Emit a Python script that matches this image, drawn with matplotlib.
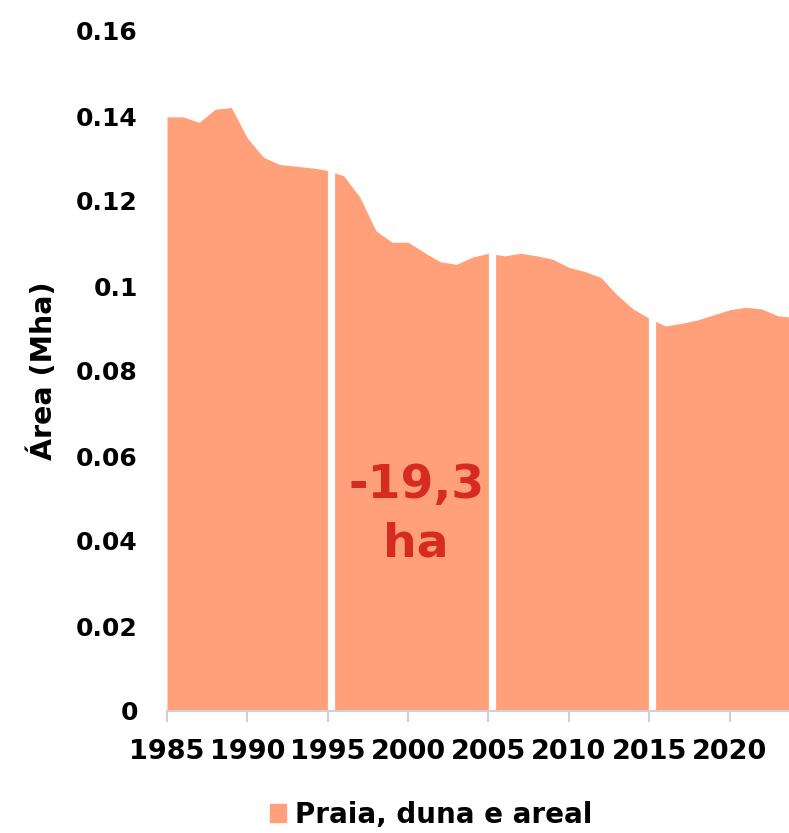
import matplotlib
matplotlib.use('Agg')
import matplotlib.pyplot as plt
from matplotlib.patches import Patch

# Data (area in Mha)
years = list(range(1985, 2025))
area = [0.1398, 0.1398, 0.1385, 0.1416, 0.1420, 0.1348, 0.1303, 0.1286, 0.1282, 0.1278,
        0.1272, 0.1259, 0.1209, 0.1130, 0.1103, 0.1103, 0.1079, 0.1057, 0.1051, 0.1068,
        0.1077, 0.1071, 0.1077, 0.1071, 0.1063, 0.1044, 0.1034, 0.1020, 0.0979, 0.0946,
        0.0924, 0.0906, 0.0912, 0.0920, 0.0932, 0.0944, 0.0950, 0.0946, 0.0930, 0.0926]
breaks = [1995, 2005, 2015]
xticks = [1985, 1990, 1995, 2000, 2005, 2010, 2015, 2020]
yticks = [0, 0.02, 0.04, 0.06, 0.08, 0.1, 0.12, 0.14, 0.16]
ytick_labels = ['0', '0.02', '0.04', '0.06', '0.08', '0.1', '0.12', '0.14', '0.16']
series_name = 'Praia, duna e areal'
change_label = '-19,3\nha'

fill_color = '#ffa07a'
red = '#d62b20'

plt.rcParams['font.family'] = ['DejaVu Sans']
plt.rcParams['font.weight'] = 'bold'

fig = plt.figure(figsize=(7.89, 8.33), dpi=100)
ax = fig.add_axes([167 / 789, 1 - 711 / 833, (789 - 167) / 789, (711 - 31) / 833])

ax.fill_between(years, area, 0, color=fill_color, linewidth=0)
# white separators between decades
for b in breaks:
    ax.plot([b + 0.2, b + 0.2], [0, area[years.index(b)] + 0.002], color='white', linewidth=5.2,
            solid_capstyle='butt')

ax.set_xlim(1985, 2023.7)
ax.set_ylim(0, 0.16)
ax.set_xticks(xticks)
ax.set_xticklabels([str(x) for x in xticks], fontsize=19.5, fontweight='bold')
ax.set_yticks(yticks)
ax.set_yticklabels(ytick_labels, fontsize=18, fontweight='bold')
ax.tick_params(axis='y', length=0, pad=21)
ax.tick_params(axis='x', length=8, color='#d0d0d0', width=1.5, pad=12)
for side in ['top', 'right', 'left']:
    ax.spines[side].set_visible(False)
ax.spines['bottom'].set_color('#d0d0d0')
ax.spines['bottom'].set_linewidth(1.5)

ax.set_ylabel('Área (Mha)', fontsize=20.5, fontweight='bold')
ax.yaxis.set_label_coords(-0.175, 0.5)

ax.text(2000.5, 0.0462, change_label, ha='center', va='center', fontsize=34,
        fontweight='bold', color=red, linespacing=1.4)

fig.legend(handles=[Patch(color=fill_color, label=series_name)], loc='center',
           bbox_to_anchor=(431 / 789, 1 - 815 / 833), frameon=False,
           prop={'size': 20, 'weight': 'bold'}, handlelength=0.6, handleheight=0.6,
           handletextpad=0.3)

fig.savefig('out.png', dpi=100)
